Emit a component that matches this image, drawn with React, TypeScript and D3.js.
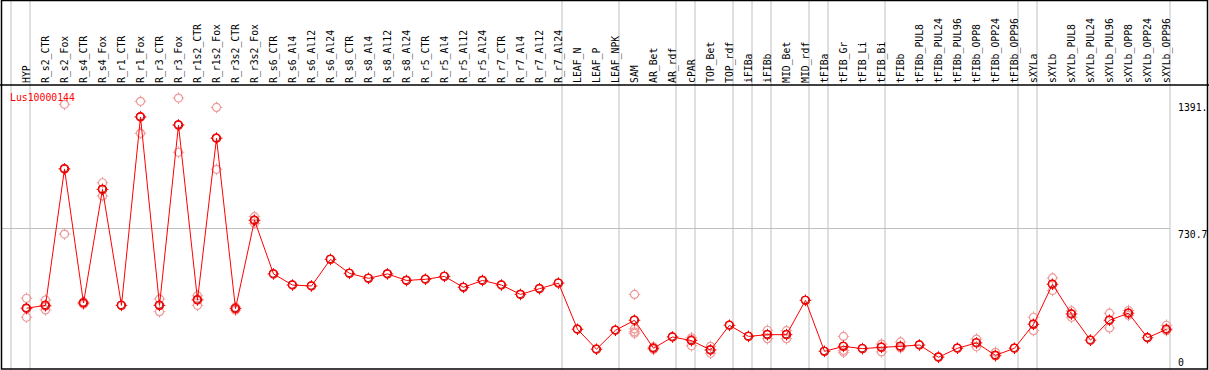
import { useEffect, useRef } from 'react';
import * as d3 from 'd3';

const geneName = 'Lus10000144';

const columns = [
  'HYP', 'R_s2_CTR', 'R_s2_Fox', 'R_s4_CTR', 'R_s4_Fox', 'R_r1_CTR', 'R_r1_Fox', 'R_r3_CTR', 'R_r3_Fox',
  'R_r1s2_CTR', 'R_r1s2_Fox', 'R_r3s2_CTR', 'R_r3s2_Fox', 'R_s6_CTR', 'R_s6_Al4', 'R_s6_Al12', 'R_s6_Al24',
  'R_s8_CTR', 'R_s8_Al4', 'R_s8_Al12', 'R_s8_Al24', 'R_r5_CTR', 'R_r5_Al4', 'R_r5_Al12', 'R_r5_Al24',
  'R_r7_CTR', 'R_r7_Al4', 'R_r7_Al12', 'R_r7_Al24', 'LEAF_N', 'LEAF_P', 'LEAF_NPK', 'SAM', 'AR_Bet', 'AR_rdf',
  'cPAR', 'TOP_Bet', 'TOP_rdf', 'iFIBa', 'iFIBb', 'MID_Bet', 'MID_rdf', 'tFIBa', 'tFIB_Gr', 'tFIB_Li', 'tFIB_Bi',
  'tFIBb', 'tFIBb_PUL8', 'tFIBb_PUL24', 'tFIBb_PUL96', 'tFIBb_OPP8', 'tFIBb_OPP24', 'tFIBb_OPP96', 'sXYLa',
  'sXYLb', 'sXYLb_PUL8', 'sXYLb_PUL24', 'sXYLb_PUL96', 'sXYLb_OPP8', 'sXYLb_OPP24', 'sXYLb_OPP96',
];

// mean expression per column
const meanValues = [
  312, 327, 1039, 339, 932, 327, 1310, 327, 1268, 355, 1199, 310, 771, 491, 433, 428, 567, 494, 468, 491, 457,
  463, 478, 421, 457, 433, 384, 414, 443, 202, 98, 197, 249, 103, 162, 143, 94, 223, 165, 174, 174, 353, 87,
  113, 101, 108, 113, 120, 56, 103, 131, 66, 103, 228, 437, 282, 145, 249, 286, 158, 202,
];

// individual replicates (empty where only the mean is shown)
const replicateValues: number[][] = [
  [364, 309, 265], [355, 322, 303], [1376, 1040, 699], [345, 333], [967, 932, 898], [], [1392, 1313, 1225],
  [360, 327, 294], [1409, 1269, 1126], [377, 360, 327], [1360, 1200, 1037], [318, 302], [790, 768, 755],
  [], [], [], [], [], [], [], [], [], [], [], [], [], [], [], [],
  [], [], [], [384, 204, 189, 181], [110, 96], [], [158, 150, 116], [113, 94, 77], [], [], [197, 174, 153],
  [195, 174, 153], [], [], [165, 92, 82], [], [125, 84], [136, 105], [], [60], [], [151, 111], [82, 62], [],
  [265, 195], [470, 404], [298, 265], [], [286, 209], [300, 275], [], [223, 195],
];

// separators sit right after these columns (plus one before the first)
const groupEnds = [
  'HYP', 'R_r7_Al24', 'LEAF_NPK', 'AR_rdf', 'cPAR', 'TOP_rdf', 'iFIBa', 'iFIBb', 'MID_rdf', 'tFIBa',
  'tFIB_Bi', 'tFIBb_OPP96', 'sXYLa', 'sXYLb_OPP96',
];

const yTickValues = [0, 730.7, 1391];
const yTickLabels = ['0', '730.7', '1391.'];

const W = 1209;
const H = 370;
const FONT = '"DejaVu Sans Mono", monospace';

const App = (): JSX.Element => {
  const svgRef = useRef<SVGSVGElement>(null);

  useEffect(() => {
    if (svgRef.current) svgRef.current.innerHTML = '';
    const headerBottom = 85;
    const plotBottom = 368;

    const x = d3.scalePoint<string>().domain(columns).range([26.5, 1166.5]);
    const step = x.step();
    const y = d3.scaleLinear().domain([0, 730.7]).range([plotBottom, 228]);

    const svg = d3.select(svgRef.current).attr('width', W).attr('height', H).attr('viewBox', [0, 0, W, H]);

    svg.append('rect').attr('width', W).attr('height', H).attr('fill', '#fff');

    // vertical group separators
    const sepX = [x(columns[0])! - step + 3.5, ...groupEnds.map((c) => x(c)! + 3.5)];
    svg
      .append('g')
      .selectAll('line')
      .data(sepX)
      .join('line')
      .attr('x1', (d) => d)
      .attr('x2', (d) => d)
      .attr('y1', 0)
      .attr('y2', H)
      .attr('stroke', '#c0c0c0')
      .attr('stroke-width', 1);

    // middle horizontal reference
    svg
      .append('line')
      .attr('x1', 1)
      .attr('x2', 1170)
      .attr('y1', Math.round(y(730.7)) + 0.5)
      .attr('y2', Math.round(y(730.7)) + 0.5)
      .attr('stroke', '#c0c0c0');

    // column labels
    svg
      .append('g')
      .selectAll('text')
      .data(columns)
      .join('text')
      .attr('transform', (d) => `translate(${x(d)! + 3.5},${headerBottom - 2}) rotate(-90)`)
      .attr('font-family', FONT)
      .attr('font-size', 9.8)
      .attr('fill', '#000')
      .text((d) => d);

    // y labels
    svg
      .append('g')
      .selectAll('text')
      .data(yTickValues)
      .join('text')
      .attr('x', 1178)
      .attr('y', (d) => Math.min(y(d) + 9.5, plotBottom - 2))
      .attr('font-family', FONT)
      .attr('font-size', 9.8)
      .attr('fill', '#000')
      .text((d, i) => yTickLabels[i]);

    const marker = (g: d3.Selection<SVGGElement, unknown, null, undefined>, cx: number, cy: number, color: string, w: number) => {
      const m = g.append('g').attr('transform', `translate(${cx},${cy})`).attr('stroke', color).attr('fill', 'none');
      m.append('circle').attr('r', 4).attr('stroke-width', w);
      [[0, -4, 0, -5.8], [0, 4, 0, 5.8], [-4, 0, -5.8, 0], [4, 0, 5.8, 0]].forEach(([a, b, c, d]) =>
        m.append('line').attr('x1', a).attr('y1', b).attr('x2', c).attr('y2', d).attr('stroke-width', 1)
      );
    };

    // replicates
    const reps = svg.append('g');
    replicateValues.forEach((vals, i) =>
      vals.forEach((v) => marker(reps as any, x(columns[i])!, y(v), '#ee9a9a', 1.2))
    );

    // mean line
    const line = d3
      .line<number>()
      .x((d, i) => x(columns[i])!)
      .y((d) => y(d));
    svg.append('path').attr('fill', 'none').attr('stroke', '#ff0000').attr('stroke-width', 1).attr('d', line(meanValues));

    const means = svg.append('g');
    meanValues.forEach((v, i) => {
      const cx = x(columns[i])!;
      means
        .append('circle')
        .attr('cx', cx - 0.5)
        .attr('cy', y(v) - 0.5)
        .attr('r', 3.8)
        .attr('fill', 'none')
        .attr('stroke', '#700')
        .attr('stroke-width', 0.9);
      marker(means as any, cx, y(v), '#ff0000', 1.4);
    });

    svg
      .append('text')
      .attr('x', 10)
      .attr('y', 101)
      .attr('font-family', FONT)
      .attr('font-size', 9.8)
      .attr('fill', '#ff0000')
      .text(geneName);

    // header rule and frame
    svg.append('line').attr('x1', 0).attr('x2', W).attr('y1', headerBottom).attr('y2', headerBottom).attr('stroke', '#000').attr('stroke-width', 1.5);
    svg
      .append('rect')
      .attr('x', 1.5)
      .attr('y', 0.5)
      .attr('width', 1206)
      .attr('height', 368.5)
      .attr('fill', 'none')
      .attr('stroke', '#000')
      .attr('stroke-width', 1.5);
  }, []);

  return (
    <div style={{ position: 'absolute', left: 0, top: 0 }}>
      <svg ref={svgRef} style={{ display: 'block' }} />
    </div>
  );
};

export default App;
